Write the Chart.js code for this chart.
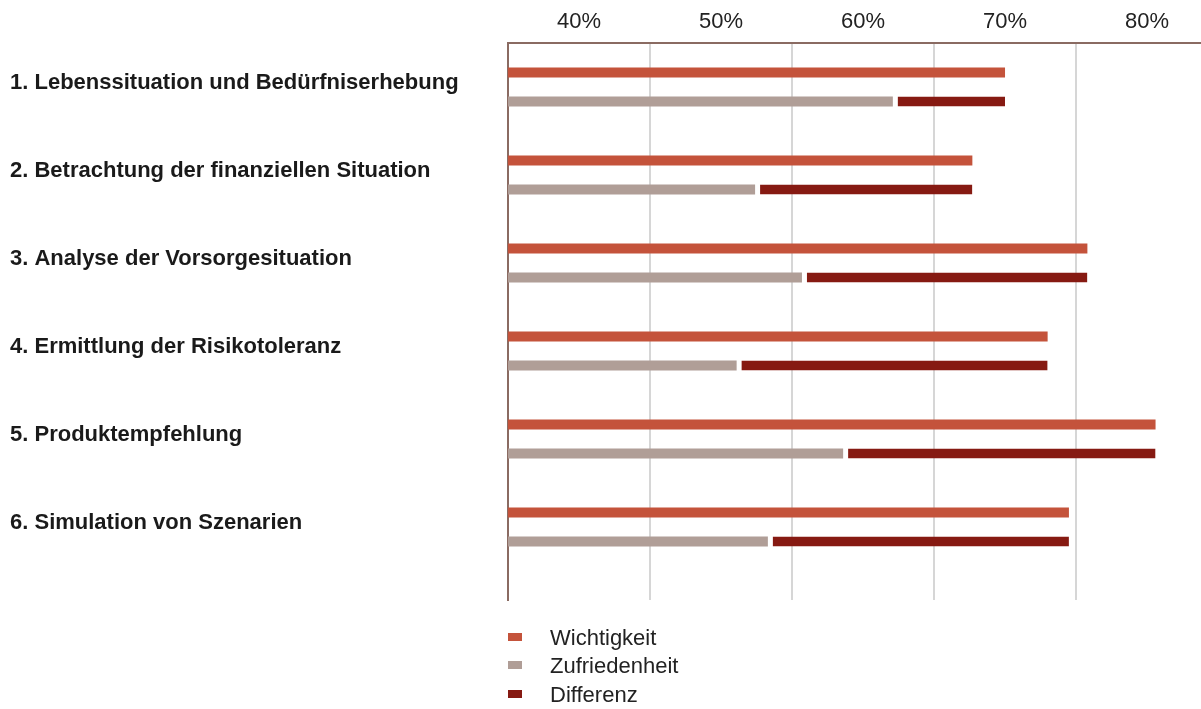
<!DOCTYPE html>
<html>
<head>
<meta charset="utf-8">
<script src="https://cdn.jsdelivr.net/npm/chart.js@4"></script>
<style>
  html, body { margin: 0; padding: 0; background: #fff; }
  #wrap { position: relative; width: 1201px; height: 709px; }
  #legend { position: absolute; left: 0; top: 0; font-family: 'Liberation Sans', Arial, sans-serif; font-size: 22px; color: #222; }
  .li { position: absolute; left: 508px; white-space: nowrap; }
  .sw { position: absolute; left: 0; width: 14px; height: 8px; top: -4px; }
  .tx { position: absolute; left: 42px; top: -12px; line-height: 26px; }
</style>
</head>
<body>
<div id="wrap">
  <canvas id="c" width="1201" height="709"></canvas>
  <div id="legend"></div>
</div>
<script>
const categories = [
  '1. Lebenssituation und Bedürfniserhebung',
  '2. Betrachtung der finanziellen Situation',
  '3. Analyse der Vorsorgesituation',
  '4. Ermittlung der Risikotoleranz',
  '5. Produktempfehlung',
  '6. Simulation von Szenarien'
];
const wichtigkeit   = [70.0, 67.7, 75.8, 73.0, 80.6, 74.5];
const zufriedenheit = [62.1, 52.4, 55.7, 51.1, 58.6, 53.3];
const seriesNames = ['Wichtigkeit', 'Zufriedenheit', 'Differenz'];
const tickLabels = [40, 50, 60, 70, 80];
const gridValues = [45, 55, 65, 75];

const colors = ['#c4533b', '#b09e97', '#861a12'];
const axisColor = '#8a6b62';

const datasets = [
  {
    label: seriesNames[0],
    data: categories.map((c, i) => ({ x: wichtigkeit[i], y: i })),
    backgroundColor: colors[0],
    stack: 'a',
    borderWidth: 0
  },
  {
    label: seriesNames[1],
    data: categories.map((c, i) => ({ x: zufriedenheit[i], y: i })),
    backgroundColor: colors[1],
    stack: 'b',
    borderWidth: 0
  },
  {
    label: seriesNames[2],
    data: categories.map((c, i) => ({ x: [zufriedenheit[i], wichtigkeit[i]], y: i })),
    backgroundColor: colors[2],
    borderColor: '#ffffff',
    borderWidth: { left: 5, right: 0, top: 0, bottom: 0 },
    borderSkipped: false,
    stack: 'b'
  }
];

new Chart(document.getElementById('c'), {
  type: 'bar',
  data: { datasets },
  options: {
    indexAxis: 'y',
    responsive: false,
    animation: false,
    devicePixelRatio: 1,
    categoryPercentage: 0.659,
    barPercentage: 0.345,
    layout: { padding: { left: 10, top: 0, right: 0, bottom: 109 } },
    plugins: { legend: { display: false }, tooltip: { enabled: false } },
    scales: {
      x: {
        type: 'linear',
        position: 'top',
        stacked: false,
        offset: false,
        min: 35,
        max: 83.8,
        afterBuildTicks: s => {
          const t = [];
          for (let v = 35; v <= 80; v += 5) t.push({ value: v });
          s.ticks = t;
        },
        afterFit: s => { s.height = 43; s.paddingRight = 0; s.paddingLeft = 0; },
        grid: {
          drawTicks: false,
          lineWidth: 2,
          color: ctx => (ctx.tick && gridValues.includes(ctx.tick.value)) ? '#d6d6d6' : 'rgba(0,0,0,0)'
        },
        border: { color: axisColor, width: 2 },
        ticks: {
          autoSkip: false,
          maxRotation: 0,
          padding: 8,
          color: '#222',
          font: { family: "'Liberation Sans', Arial, sans-serif", size: 22 },
          callback: v => tickLabels.includes(v) ? v + '%' : ''
        }
      },
      y: {
        type: 'linear',
        reverse: true,
        stacked: true,
        offset: false,
        min: -0.5,
        max: 5.83,
        afterBuildTicks: s => { s.ticks = categories.map((c, i) => ({ value: i })); },
        afterFit: s => { s.width = 498; },
        grid: { display: false, drawTicks: false, offset: false },
        border: { color: axisColor, width: 2 },
        ticks: {
          autoSkip: false,
          crossAlign: 'far',
          labelOffset: -4,
          color: '#1a1a1a',
          font: { family: "'Liberation Sans', Arial, sans-serif", size: 22, weight: 'bold' },
          callback: v => categories[v]
        }
      }
    }
  }
});

const legend = document.getElementById('legend');
const legendY = [636.5, 665, 694];
seriesNames.forEach((n, i) => {
  const li = document.createElement('div');
  li.className = 'li';
  li.style.top = legendY[i] + 'px';
  li.innerHTML = '<span class="sw" style="background:' + colors[i] + '"></span><span class="tx">' + n + '</span>';
  legend.appendChild(li);
});
</script>
</body>
</html>
